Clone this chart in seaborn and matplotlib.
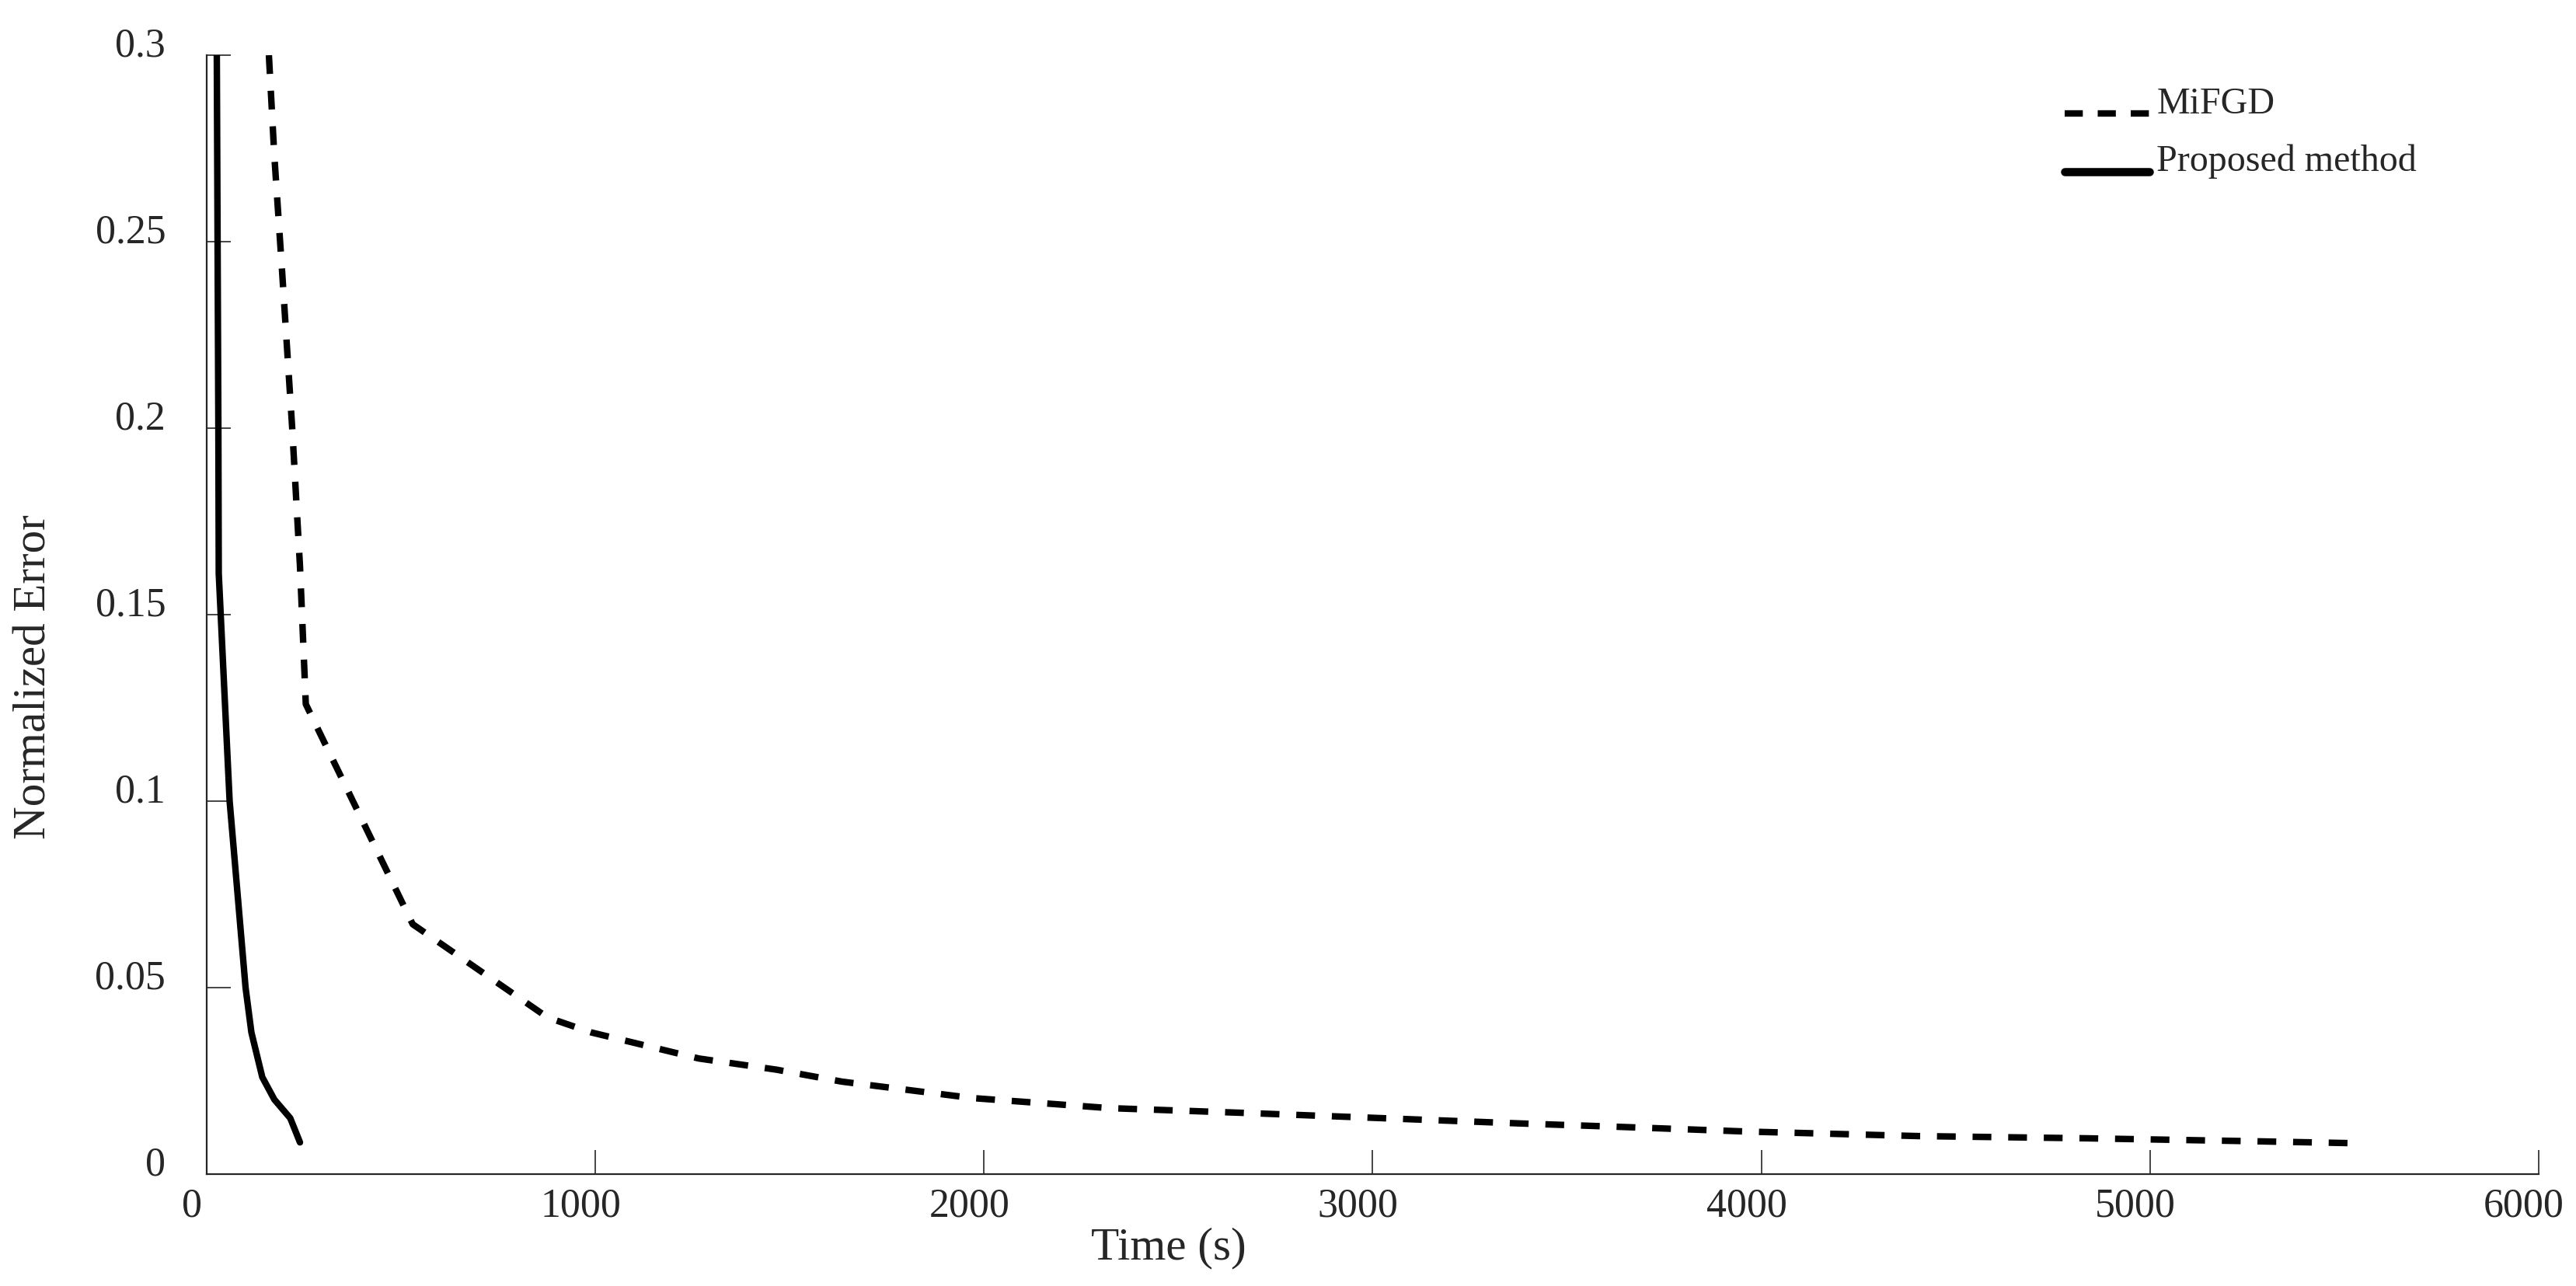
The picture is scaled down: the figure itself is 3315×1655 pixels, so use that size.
import pandas as pd
import matplotlib
matplotlib.use("Agg")
import matplotlib.pyplot as plt
import matplotlib.transforms as mtransforms
import seaborn as sns

# values
mifgd_time = [160, 174, 194, 220, 240, 255, 530, 877, 989, 1266, 1466, 1634,
              1969, 2321, 2672, 3024, 3375, 3627, 3966, 4402, 4837, 5273, 5517]
mifgd_error = [0.300, 0.273, 0.242, 0.200, 0.163, 0.126, 0.067, 0.042, 0.038,
               0.031, 0.028, 0.0248, 0.0204, 0.0177, 0.0164, 0.0150, 0.0136,
               0.0127, 0.0114, 0.0102, 0.0096, 0.0088, 0.0083]

proposed_time = [26, 28, 30, 31, 59, 100, 115, 143, 174, 215, 240]
proposed_error = [0.300, 0.250, 0.200, 0.161, 0.100, 0.050, 0.038, 0.026,
                  0.020, 0.015, 0.0085]

series_names = ["MiFGD", "Proposed method"]
x_ticks = [0, 1000, 2000, 3000, 4000, 5000, 6000]
y_ticks = [0, 0.05, 0.1, 0.15, 0.2, 0.25, 0.3]
y_tick_labels = ["0", "0.05", "0.1", "0.15", "0.2", "0.25", "0.3"]

df = pd.concat([
    pd.DataFrame({"time": mifgd_time, "error": mifgd_error, "method": series_names[0]}),
    pd.DataFrame({"time": proposed_time, "error": proposed_error, "method": series_names[1]}),
], ignore_index=True)

sns.set_style("ticks")
plt.rcParams["font.family"] = ["Liberation Serif", "DejaVu Serif"]

dpi = 200
fig = plt.figure(figsize=(3316 / dpi, 1656 / dpi), dpi=dpi)
ax = fig.add_axes([266 / 3316, 1 - 1512 / 1656, (3267 - 266) / 3316, (1512 - 72) / 1656])

sns.lineplot(data=df, x="time", y="error", hue="method", style="method",
             palette={series_names[0]: "black", series_names[1]: "black"},
             dashes={series_names[0]: (2.9, 2.6), series_names[1]: ""},
             estimator=None, sort=False, linewidth=3.0, ax=ax)

ax.set_xlim(0, 6000)
ax.set_ylim(0, 0.3)
ax.set_xticks(x_ticks)
ax.set_yticks(y_ticks)
ax.set_yticklabels(y_tick_labels)
sns.despine(ax=ax)

axis_col = "#262626"
for s in ["left", "bottom"]:
    ax.spines[s].set_color(axis_col)
    ax.spines[s].set_linewidth(0.8)
ax.tick_params(axis="both", direction="in", length=11, width=0.6, color=axis_col,
               labelcolor=axis_col, labelsize=18.7)
ax.tick_params(axis="x", pad=6)
ax.tick_params(axis="y", pad=19)

# labels sit a little off their ticks in the reference
for t in ax.get_xticklabels():
    t.set_transform(t.get_transform() + mtransforms.ScaledTranslation(-19 / dpi, 0, fig.dpi_scale_trans))
for t in ax.get_yticklabels():
    t.set_transform(t.get_transform() + mtransforms.ScaledTranslation(0, 18 / dpi, fig.dpi_scale_trans))

ax.set_xlabel("Time (s)", fontsize=21.3, color=axis_col)
ax.set_ylabel("Normalized Error", fontsize=21.3, color=axis_col)
ax.xaxis.label.set_va("center")
ax.yaxis.label.set_va("center")
ax.xaxis.set_label_coords(0.4125, -0.0653)
ax.yaxis.set_label_coords(-0.0738, 0.445)

handles, labels = ax.get_legend_handles_labels()
leg = ax.legend(handles, labels, loc="upper left", bbox_to_anchor=(2657 / 3316, 1 - 112 / 1656),
                bbox_transform=fig.transFigure, frameon=False, fontsize=17.3,
                handlelength=2.27, handletextpad=0.19, labelspacing=0.62,
                borderpad=0, borderaxespad=0)
for line in leg.get_lines():
    line.set_ydata([y - 6.5 for y in line.get_ydata()])
leg.get_lines()[0].set_linewidth(3.0)
leg.get_lines()[0].set_linestyle((0, (2.8, 2.3)))
leg.get_lines()[1].set_linewidth(3.8)

fig.savefig("out.png", dpi=dpi, facecolor="white")
